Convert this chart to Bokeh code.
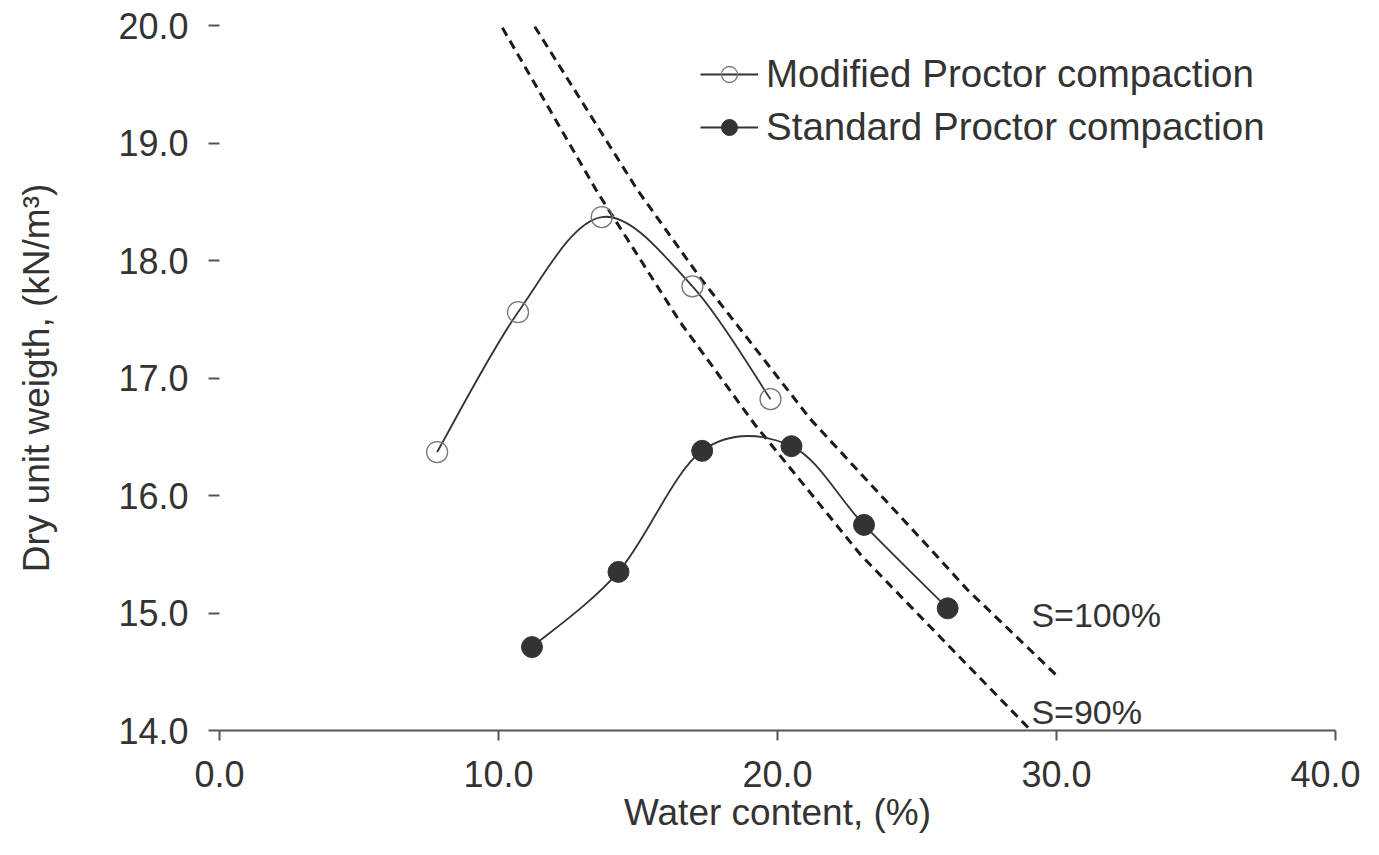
from bokeh.plotting import figure
from bokeh.models import Legend, LegendItem, Label, FixedTicker, PrintfTickFormatter, Range1d
from bokeh.embed import file_html
from bokeh.resources import INLINE

# ---- data ----
mod_w = [7.8, 10.7, 13.7, 16.95, 19.75]
mod_g = [16.37, 17.56, 18.37, 17.78, 16.82]
std_w = [11.2, 14.3, 17.3, 20.5, 23.1, 26.1]
std_g = [14.71, 15.35, 16.38, 16.42, 15.75, 15.04]
s100_w = [11.3, 14.98, 17.24, 21.18, 25.38, 26.8, 30.0]
s100_g = [19.99, 18.6, 17.85, 16.65, 15.57, 15.2, 14.47]
s90_w = [10.14, 13.55, 16.5, 19.2, 23.0, 26.67, 29.0]
s90_g = [19.98, 18.58, 17.48, 16.6, 15.49, 14.59, 14.02]
x_ticks = [0, 10, 20, 30, 40]
y_ticks = [14, 15, 16, 17, 18, 19, 20]
labels = ["Modified Proctor compaction", "Standard Proctor compaction"]

FONT = "Liberation Sans"
TXT = "#333333"


def smooth_segments(xs, ys):
    """Bezier segments (Excel-style smoothed line) through the data points."""
    n = len(xs)
    out = dict(x0=[], y0=[], x1=[], y1=[], cx0=[], cy0=[], cx1=[], cy1=[])
    for i in range(n - 1):
        xp, yp = (xs[i - 1], ys[i - 1]) if i > 0 else (xs[i], ys[i])
        xn, yn = (xs[i + 2], ys[i + 2]) if i + 2 < n else (xs[i + 1], ys[i + 1])
        out["x0"].append(xs[i]); out["y0"].append(ys[i])
        out["x1"].append(xs[i + 1]); out["y1"].append(ys[i + 1])
        out["cx0"].append(xs[i] + (xs[i + 1] - xp) / 6.0)
        out["cy0"].append(ys[i] + (ys[i + 1] - yp) / 6.0)
        out["cx1"].append(xs[i + 1] - (xn - xs[i]) / 6.0)
        out["cy1"].append(ys[i + 1] - (yn - ys[i]) / 6.0)
    return out


p = figure(width=1360, height=835, output_backend="svg", toolbar_location=None,
           x_range=Range1d(0, 40), y_range=Range1d(14, 20),
           min_border_left=219, min_border_right=25, min_border_top=25, min_border_bottom=103)
p.outline_line_color = None
p.grid.visible = False
p.background_fill_color = "white"
p.border_fill_color = "white"

# saturation lines
p.line(s100_w, s100_g, line_color="#1a1a1a", line_width=3, line_dash="9 6")
p.line(s90_w, s90_g, line_color="#1a1a1a", line_width=3, line_dash="9 6")

# smoothed curves
p.bezier(line_color="#333333", line_width=1.8, **smooth_segments(mod_w, mod_g))
p.bezier(line_color="#333333", line_width=1.8, **smooth_segments(std_w, std_g))

mod_pts = p.scatter(mod_w, mod_g, size=21, marker="circle", fill_color=None,
                    line_color="#777777", line_width=1.3)
std_pts = p.scatter(std_w, std_g, size=21, marker="circle", fill_color="#333333",
                    line_color="#333333", line_width=1)

# legend proxies (lines that draw nothing in the plot)
nan = float("nan")
l1 = p.line([nan], [nan], line_color="#333333", line_width=1.8)
l2 = p.line([nan], [nan], line_color="#333333", line_width=1.8)
legend = Legend(items=[LegendItem(label=labels[0], renderers=[l1, mod_pts]),
                       LegendItem(label=labels[1], renderers=[l2, std_pts])],
                location=(481, 581), orientation="vertical",
                glyph_width=58, glyph_height=40, label_height=40, label_standoff=8,
                spacing=9, padding=5, margin=0,
                label_text_font=FONT, label_text_font_size="38.5px", label_text_color=TXT,
                border_line_color=None, background_fill_alpha=0)
p.add_layout(legend, "center")

# S labels
for txt, xx, yy in [("S=100%", 29.1, 14.98), ("S=90%", 29.1, 14.16)]:
    p.add_layout(Label(x=xx, y=yy, text=txt, text_font=FONT, text_font_size="34px",
                       text_color=TXT, text_align="left", text_baseline="middle"))

# axes
xa = p.xaxis[0]
xa.ticker = FixedTicker(ticks=x_ticks)
xa.formatter = PrintfTickFormatter(format="%.1f")
xa.axis_line_color = "#555555"
xa.axis_line_width = 2
xa.major_tick_line_color = "#555555"
xa.major_tick_line_width = 2
xa.major_tick_out = 10
xa.major_tick_in = 0
xa.minor_tick_line_color = None
xa.major_label_standoff = 20
xa.major_label_text_font = FONT
xa.major_label_text_font_size = "36px"
xa.major_label_text_color = TXT
xa.axis_label = "Water content, (%)"
xa.axis_label_text_font = FONT
xa.axis_label_text_font_size = "37px"
xa.axis_label_text_font_style = "normal"
xa.axis_label_text_color = TXT
xa.axis_label_standoff = 2

ya = p.yaxis[0]
ya.ticker = FixedTicker(ticks=y_ticks)
ya.formatter = PrintfTickFormatter(format="%.1f")
ya.axis_line_color = None
ya.major_tick_line_color = "#555555"
ya.major_tick_line_width = 2
ya.major_tick_out = 11
ya.major_tick_in = 0
ya.minor_tick_line_color = None
ya.major_label_standoff = 20
ya.major_label_text_font = FONT
ya.major_label_text_font_size = "36px"
ya.major_label_text_color = TXT
ya.axis_label = "Dry unit weigth, (kN/m³)"
ya.axis_label_text_font = FONT
ya.axis_label_text_font_size = "37px"
ya.axis_label_text_font_style = "normal"
ya.axis_label_text_color = TXT
ya.axis_label_standoff = 58

open("out.html", "w").write(file_html(p, INLINE))
